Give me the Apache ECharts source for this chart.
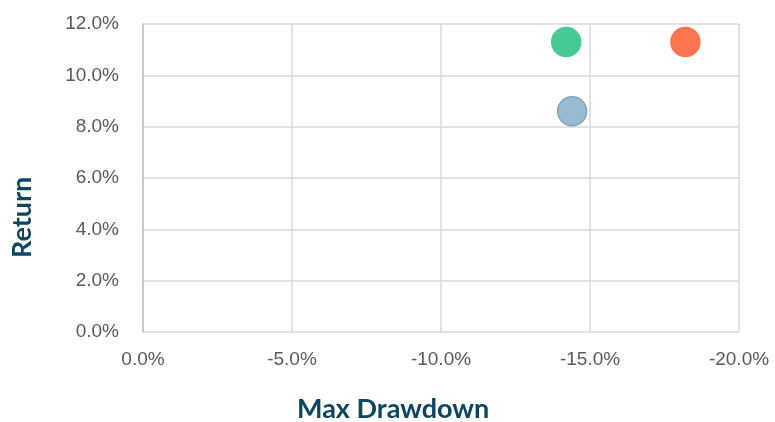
<!DOCTYPE html>
<html>
<head>
<meta charset="utf-8">
<script src="https://cdn.jsdelivr.net/npm/echarts@6/dist/echarts.min.js"></script>
<style>
html, body { margin: 0; padding: 0; background: #fff; }
#scatterChart { width: 775px; height: 422px; }
</style>
</head>
<body>
<div id="scatterChart"></div>
<script>
// 数据
var seriesNames = ['Green', 'Orange', 'Blue'];
var drawdownValues = [-14.2, -18.2, -14.4];
var returnValues = [11.3, 11.3, 8.6];
var pointColors = ['#47c993', '#ff7550', '#97bbd0'];
var borderColors = ['#47c993', '#ff7550', '#7fa5be'];

var xTicks = { min: -20, max: 0, interval: 5 };
var yTicks = { min: 0, max: 12, interval: 2 };

var scatterChart = function () {
    var myChart = echarts.init(document.getElementById('scatterChart'));

    var series = [];
    seriesNames.forEach(function (name, i) {
        series.push({
            name: name,
            type: 'scatter',
            symbolSize: 29,
            data: [[drawdownValues[i], returnValues[i]]],
            itemStyle: {
                color: pointColors[i],
                borderColor: borderColors[i],
                borderWidth: 1.5,
                opacity: 1
            }
        });
    });

    var pct = function (v) { return (v === 0 ? 0 : v).toFixed(1) + '%'; };

    var option = {
        animation: false,
        grid: { left: 143, right: 36, top: 24, bottom: 90, containLabel: false },
        xAxis: {
            type: 'value',
            inverse: true,
            min: xTicks.min,
            max: xTicks.max,
            interval: xTicks.interval,
            axisLine: { show: false },
            axisTick: { show: false },
            splitLine: { lineStyle: { color: '#d9d9d9', width: 1.5 } },
            axisLabel: {
                formatter: pct,
                color: '#595959',
                fontFamily: 'Liberation Sans',
                fontSize: 19,
                margin: 18
            }
        },
        yAxis: {
            type: 'value',
            min: yTicks.min,
            max: yTicks.max,
            interval: yTicks.interval,
            axisLine: { show: true, lineStyle: { color: '#bfbfbf', width: 1.5 } },
            axisTick: { show: false },
            splitLine: { lineStyle: { color: '#d9d9d9', width: 1.5 } },
            axisLabel: {
                formatter: pct,
                color: '#595959',
                fontFamily: 'Liberation Sans',
                fontSize: 19,
                margin: 24
            }
        },
        graphic: [
            {
                type: 'text',
                left: 297,
                top: 396,
                style: {
                    text: 'Max Drawdown',
                    fill: '#0e4560',
                    font: 'bold 27px Lato'
                }
            },
            {
                type: 'text',
                x: 9,
                y: 258,
                rotation: Math.PI / 2,
                style: {
                    text: 'Return',
                    fill: '#0e4560',
                    font: 'bold 27px Lato'
                }
            }
        ],
        series: series
    };

    myChart.setOption(option);
};

scatterChart();
</script>
</body>
</html>
